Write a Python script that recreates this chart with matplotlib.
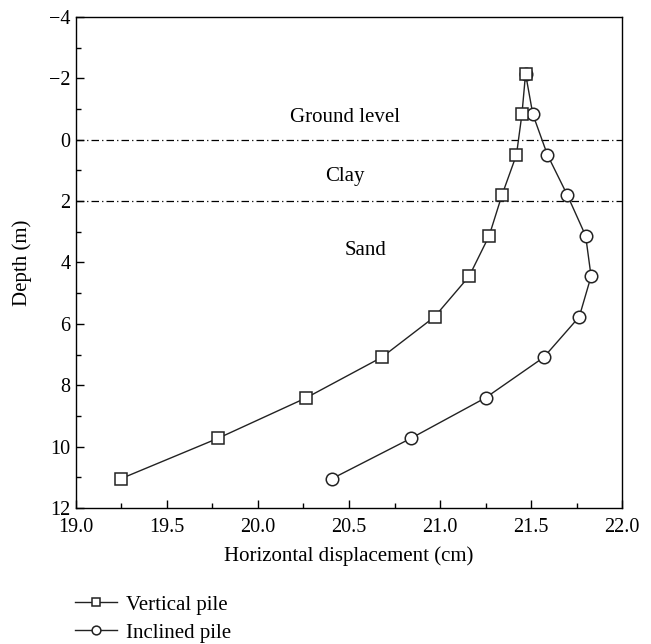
import matplotlib
matplotlib.use("Agg")
import matplotlib.pyplot as plt
from matplotlib.ticker import MultipleLocator, FormatStrFormatter

plt.rcParams['font.family'] = ['Liberation Serif', 'DejaVu Serif']
plt.rcParams['axes.unicode_minus'] = True

depth = [-2.15, -0.83, 0.49, 1.81, 3.13, 4.45, 5.77, 7.09, 8.41, 9.73, 11.05]
vertical_pile = [21.47, 21.45, 21.42, 21.34, 21.27, 21.16, 20.97, 20.68, 20.265, 19.78, 19.245]
inclined_pile = [21.47, 21.51, 21.59, 21.70, 21.80, 21.83, 21.765, 21.57, 21.25, 20.84, 20.405]

layer_bounds = [0, 2]
layer_labels = ["Ground level", "Clay", "Sand"]
layer_label_x = [20.48, 20.48, 20.59]
layer_label_y = [-0.74, 1.2, 3.61]

FS = 15
TICK_FS = 14.5

fig = plt.figure(figsize=(6.51, 6.44), dpi=100)
ax = fig.add_axes([0.1167, 0.2112, 0.8388, 0.7624])

for yb in layer_bounds:
    ax.axhline(yb, color='black', lw=0.9, linestyle=(0, (6, 2.5, 1, 2.5)))

ax.plot(inclined_pile, depth, '-o', color='#222222', lw=1.0, ms=9,
        mfc='white', mec='#222222', mew=1.1, label='Inclined pile', zorder=3)
ax.plot(vertical_pile, depth, '-s', color='#222222', lw=1.0, ms=8.5,
        mfc='white', mec='#222222', mew=1.1, label='Vertical pile', zorder=4)

for txt, x, y in zip(layer_labels, layer_label_x, layer_label_y):
    ax.text(x, y, txt, ha='center', va='center', fontsize=FS)

ax.set_xlim(19.0, 22.0)
ax.set_ylim(12, -4)
ax.xaxis.set_major_locator(MultipleLocator(0.5))
ax.xaxis.set_minor_locator(MultipleLocator(0.25))
ax.yaxis.set_major_locator(MultipleLocator(2))
ax.yaxis.set_minor_locator(MultipleLocator(1))
ax.xaxis.set_major_formatter(FormatStrFormatter('%.1f'))
ax.tick_params(which='both', direction='in', top=False, right=False,
               labelsize=TICK_FS, width=1.0)
ax.tick_params(which='major', length=6)
ax.tick_params(axis='x', which='major', pad=7)
ax.tick_params(axis='y', which='major', pad=4)
ax.tick_params(which='minor', length=3.5)
for s in ax.spines.values():
    s.set_linewidth(1.0)

ax.set_xlabel('Horizontal displacement (cm)', fontsize=FS, labelpad=7)
ax.set_ylabel('Depth (m)', fontsize=FS, labelpad=12)

handles, labels = ax.get_legend_handles_labels()
fig.legend(handles[::-1], labels[::-1], loc='upper left',
           bbox_to_anchor=(0.103, 0.089), frameon=False, fontsize=FS,
           handlelength=2.0, handletextpad=0.45, labelspacing=0.4,
           borderaxespad=0.0, markerscale=0.7)

fig.savefig('out.png', dpi=100)
